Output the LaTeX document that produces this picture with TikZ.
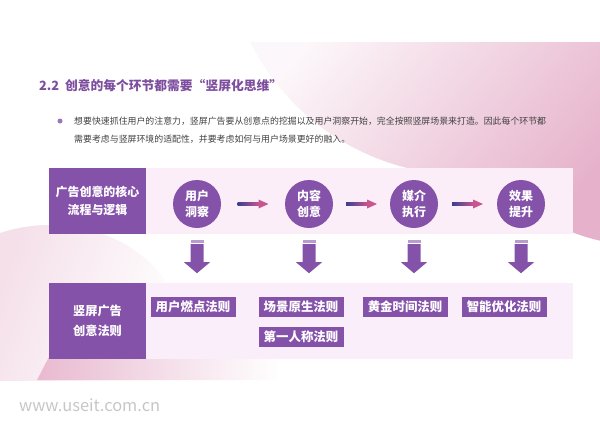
\documentclass[tikz,border=0pt]{standalone}
\usepackage{fontspec}
\setmainfont{Noto Sans CJK SC}
\usetikzlibrary{calc}
\definecolor{mainpurple}{HTML}{8552AA}
\definecolor{titlepurple}{HTML}{7D4D9E}
\definecolor{stripepurple}{HTML}{B99CCD}
\definecolor{bandpink}{HTML}{FBEEF9}
\definecolor{bandlilac}{HTML}{F9EEFA}
\definecolor{bgpink}{HTML}{E6B2CB}
\definecolor{linkblue}{HTML}{38408F}
\definecolor{linkpink}{HTML}{C9558F}
\definecolor{bodygray}{HTML}{404040}
\tikzset{
    stepcircle/.style={
        circle,
        fill=mainpurple,
        minimum size=1.44cm,
        inner sep=0pt,
        text=white,
        align=center,
        font=\bfseries\fontsize{10.2}{13.6}\selectfont
    },
    rulebox/.style={
        rectangle,
        fill=mainpurple,
        minimum width=2.55cm,
        minimum height=0.6cm,
        inner sep=0pt,
        text=white,
        font=\bfseries\fontsize{10.6}{12}\selectfont
    },
    headbox/.style={
        rectangle,
        fill=mainpurple,
        minimum width=2.91cm,
        inner sep=0pt,
        text=white,
        align=center
    },
    downarrow/.style={fill=mainpurple},
    arrowstripe/.style={fill=stripepurple}
}
\begin{document}
\begin{tikzpicture}[x=0.03cm, y=-0.03cm]

    \useasboundingbox (0,0) rectangle (600,424);

    % latar belakang kanan atas
    \begin{scope}
        \clip (0,43) rectangle (600,380);
        \clip (465,-65) circle (240) (640,60) circle (185);
        \shade[top color=bgpink!10, bottom color=bgpink, shading angle=50] (225,43) rectangle (600,260);
    \end{scope}

    % latar belakang kiri bawah
    \begin{scope}
        \clip (0,43) rectangle (600,380);
        \clip (50,330) ellipse (130 and 105);
        \shade[top color=bgpink!40, bottom color=white, shading angle=70] (0,220) rectangle (180,380);
    \end{scope}
    \shade[left color=bgpink!90, right color=white] (50,355) -- (37,380) -- (280,380) -- (280,355) -- cycle;

    \node[anchor=west, text=titlepurple, font=\bfseries\fontsize{10.9}{13}\selectfont] (title) at (35,86)
        {2.2\ \ 创意的每个环节都需要“竖屏化思维”};

    \fill[mainpurple!80] (60,121) circle (2.5);
    \node[anchor=west, inner sep=0pt, text=bodygray, align=left, font=\fontsize{7.6}{15.3}\selectfont] (intro) at (74,130)
        {想要快速抓住用户的注意力，竖屏广告要从创意点的挖掘以及用户洞察开始，完全按照竖屏场景来打造。因此每个环节都\\
        需要考虑与竖屏环境的适配性，并要考虑如何与用户场景更好的融入。};

    % dua pita
    \fill[bandpink] (49,168) rectangle (573,234);
    \fill[bandlilac] (49,283) rectangle (573,359);

    \node[headbox, minimum height=1.98cm, font=\bfseries\fontsize{10.2}{15.3}\selectfont] (flow) at (97.5,201)
        {广告创意的核心\\流程与逻辑};
    \node[headbox, minimum height=2.28cm, font=\bfseries\fontsize{10.4}{17}\selectfont] (rules) at (97.5,321)
        {竖屏广告\\创意法则};

    \node[stepcircle] (insight) at (197,204) {用户\\洞察};
    \node[stepcircle] (content) at (309,204) {内容\\创意};
    \node[stepcircle] (media) at (414,204) {媒介\\执行};
    \node[stepcircle] (effect) at (521,204) {效果\\提升};

    % panah kecil
    \coordinate (gapA) at ($(insight.east)!0.5!(content.west)$);
    \coordinate (gapB) at ($(content.east)!0.5!(media.west)$);
    \coordinate (gapC) at ($(media.east)!0.5!(effect.west)$);

    \shade[left color=linkblue, right color=linkpink] ($(gapA)+(-15.5,-1.5)$) rectangle ($(gapA)+(6,1.5)$);
    \fill[linkpink] ($(gapA)+(15.5,0)$) -- ++(-10,-4.5) -- ++(0,9) -- cycle;
    \shade[left color=linkblue, right color=linkpink] ($(gapB)+(-15.5,-1.5)$) rectangle ($(gapB)+(6,1.5)$);
    \fill[linkpink] ($(gapB)+(15.5,0)$) -- ++(-10,-4.5) -- ++(0,9) -- cycle;
    \shade[left color=linkblue, right color=linkpink] ($(gapC)+(-15.5,-1.5)$) rectangle ($(gapC)+(6,1.5)$);
    \fill[linkpink] ($(gapC)+(15.5,0)$) -- ++(-10,-4.5) -- ++(0,9) -- cycle;

    % panah besar ke bawah
    \fill[arrowstripe] ($(insight.south)+(-6.5,12)$) rectangle ++(13,2.5);
    \fill[downarrow] ($(insight.south)+(-6.5,16)$) -- ++(13,0) -- ++(0,18) -- ++(6.5,0) -- ++(-13,11) -- ++(-13,-11) -- ++(6.5,0) -- cycle;
    \fill[arrowstripe] ($(content.south)+(-6.5,12)$) rectangle ++(13,2.5);
    \fill[downarrow] ($(content.south)+(-6.5,16)$) -- ++(13,0) -- ++(0,18) -- ++(6.5,0) -- ++(-13,11) -- ++(-13,-11) -- ++(6.5,0) -- cycle;
    \fill[arrowstripe] ($(media.south)+(-6.5,12)$) rectangle ++(13,2.5);
    \fill[downarrow] ($(media.south)+(-6.5,16)$) -- ++(13,0) -- ++(0,18) -- ++(6.5,0) -- ++(-13,11) -- ++(-13,-11) -- ++(6.5,0) -- cycle;
    \fill[arrowstripe] ($(effect.south)+(-6.5,12)$) rectangle ++(13,2.5);
    \fill[downarrow] ($(effect.south)+(-6.5,16)$) -- ++(13,0) -- ++(0,18) -- ++(6.5,0) -- ++(-13,11) -- ++(-13,-11) -- ++(6.5,0) -- cycle;

    \node[rulebox] (ignite) at (193,307) {用户燃点法则};
    \node[rulebox] (native) at (301,307) {场景原生法则};
    \node[rulebox] (golden) at (405,307) {黄金时间法则};
    \node[rulebox] (smart) at (504,307) {智能优化法则};
    \node[rulebox] (firstperson) at (301,337) {第一人称法则};

    \node[anchor=west, text=gray!45, font=\fontsize{14}{16}\selectfont] (mark) at (15,405) {www.useit.com.cn};

\end{tikzpicture}
\end{document}
